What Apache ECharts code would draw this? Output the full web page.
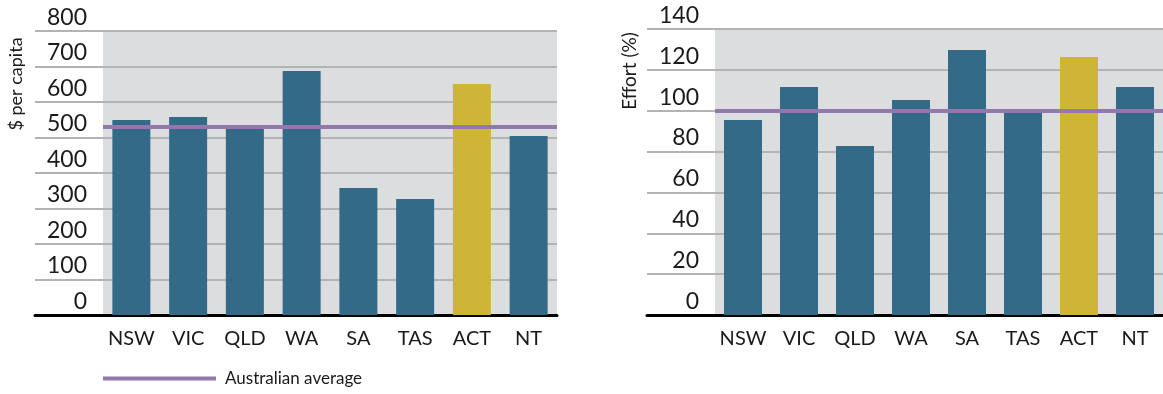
<!DOCTYPE html>
<html>
<head>
<meta charset="utf-8">
<script src="https://cdn.jsdelivr.net/npm/echarts@6/dist/echarts.min.js"></script>
<style>
html, body { margin: 0; padding: 0; background: #fff; }
#chart { width: 1163px; height: 394px; }
</style>
</head>
<body>
<div id="chart"></div>
<script>
// data
const states = ['NSW', 'VIC', 'QLD', 'WA', 'SA', 'TAS', 'ACT', 'NT'];
const perCapita = [549, 558, 524, 687, 358, 327, 651, 504];
const perCapitaAvg = 531;
const perCapitaTicks = { min: 0, max: 800, interval: 100 };
const effort = [95.4, 111.6, 82.7, 105.2, 129.7, 99.4, 126.3, 111.6];
const effortAvg = 100;
const effortTicks = { min: 0, max: 140, interval: 20 };
const highlight = 'ACT';
const avgName = 'Australian average';

const FONT = 'Lato';
const BAR = '#336a87';
const GOLD = '#cfb536';
const PURPLE = '#9278ab';
const GRID_LINE = '#b3b3b5';
const BG = '#dcdddf';

function barData(values) {
	return values.map((v, i) => ({
		value: v,
		itemStyle: { color: states[i] === highlight ? GOLD : BAR }
	}));
}

// each chart uses two grids: a wide one for the tick lines,
// and a narrower grey one holding the bars and labels
function makeGrids(wideLeft, plotLeft, right, top) {
	return [
		{ left: wideLeft, right: right, top: top, bottom: 79, show: false },
		{ left: plotLeft, right: right, top: top, bottom: 79, show: true, backgroundColor: BG, borderWidth: 0 }
	];
}

function wideAxes(gridIndex, ticks) {
	return {
		x: {
			gridIndex: gridIndex, type: 'value', min: 0, max: 1,
			axisLine: { show: true, onZero: false, lineStyle: { color: '#000', width: 3 } },
			axisTick: { show: false }, axisLabel: { show: false }, splitLine: { show: false }
		},
		y: {
			gridIndex: gridIndex, type: 'value', min: ticks.min, max: ticks.max, interval: ticks.interval,
			axisLine: { show: false }, axisTick: { show: false },
			axisLabel: { show: false },
			splitLine: { show: true, lineStyle: { color: GRID_LINE, width: 2 } }
		}
	};
}

function plotAxes(gridIndex, ticks) {
	return {
		x: {
			gridIndex: gridIndex, type: 'category', data: states,
			axisLine: { show: false }, axisTick: { show: false },
			axisLabel: { interval: 0, color: '#1a1a1a', fontFamily: FONT, fontSize: 20, margin: 14 }
		},
		y: {
			gridIndex: gridIndex, type: 'value', min: ticks.min, max: ticks.max, interval: ticks.interval,
			axisLine: { show: false }, axisTick: { show: false },
			splitLine: { show: false },
			axisLabel: {
				color: '#1a1a1a', fontFamily: FONT, fontSize: 23, margin: 16,
				verticalAlign: 'bottom', lineHeight: 23, padding: [0, 0, 2, 0]
			}
		}
	};
}

const leftWide = wideAxes(0, perCapitaTicks);
const leftPlot = plotAxes(1, perCapitaTicks);
const rightWide = wideAxes(2, effortTicks);
const rightPlot = plotAxes(3, effortTicks);

function avgSeries(xi, yi, avg) {
	return {
		name: avgName, type: 'line', xAxisIndex: xi, yAxisIndex: yi,
		data: [], symbol: 'none', color: PURPLE,
		lineStyle: { color: PURPLE, width: 4 },
		markLine: {
			silent: true, symbol: 'none', label: { show: false },
			lineStyle: { color: PURPLE, width: 4, type: 'solid' },
			emphasis: { disabled: true },
			data: [{ yAxis: avg }]
		},
		z: 5
	};
}

const option = {
	animation: false,
	grid: makeGrids(35, 103, 606, 31).concat(makeGrids(647, 715, 0, 29)),
	xAxis: [leftWide.x, leftPlot.x, rightWide.x, rightPlot.x],
	yAxis: [leftWide.y, leftPlot.y, rightWide.y, rightPlot.y],
	legend: {
		left: 103, top: 370, padding: 0,
		itemWidth: 113, itemHeight: 4,
		data: [{ name: avgName, icon: 'rect' }],
		textStyle: { color: '#1a1a1a', fontFamily: FONT, fontSize: 17, padding: [0, 0, 0, 4] }
	},
	graphic: [
		{
			type: 'text', x: 16, y: 84, rotation: Math.PI / 2,
			style: { text: '$ per capita', fill: '#1a1a1a', font: '18px ' + FONT, align: 'center', verticalAlign: 'middle' }
		},
		{
			type: 'text', x: 630, y: 71, rotation: Math.PI / 2,
			style: { text: 'Effort (%)', fill: '#1a1a1a', font: '19px ' + FONT, align: 'center', verticalAlign: 'middle' }
		}
	],
	series: [
		{
			type: 'bar', name: '$ per capita', xAxisIndex: 1, yAxisIndex: 1,
			barWidth: 38, data: barData(perCapita)
		},
		avgSeries(1, 1, perCapitaAvg),
		{
			type: 'bar', name: 'Effort (%)', xAxisIndex: 3, yAxisIndex: 3,
			barWidth: 38, data: barData(effort)
		},
		avgSeries(3, 3, effortAvg)
	]
};

const myChart = echarts.init(document.getElementById('chart'));
myChart.setOption(option);
</script>
</body>
</html>
